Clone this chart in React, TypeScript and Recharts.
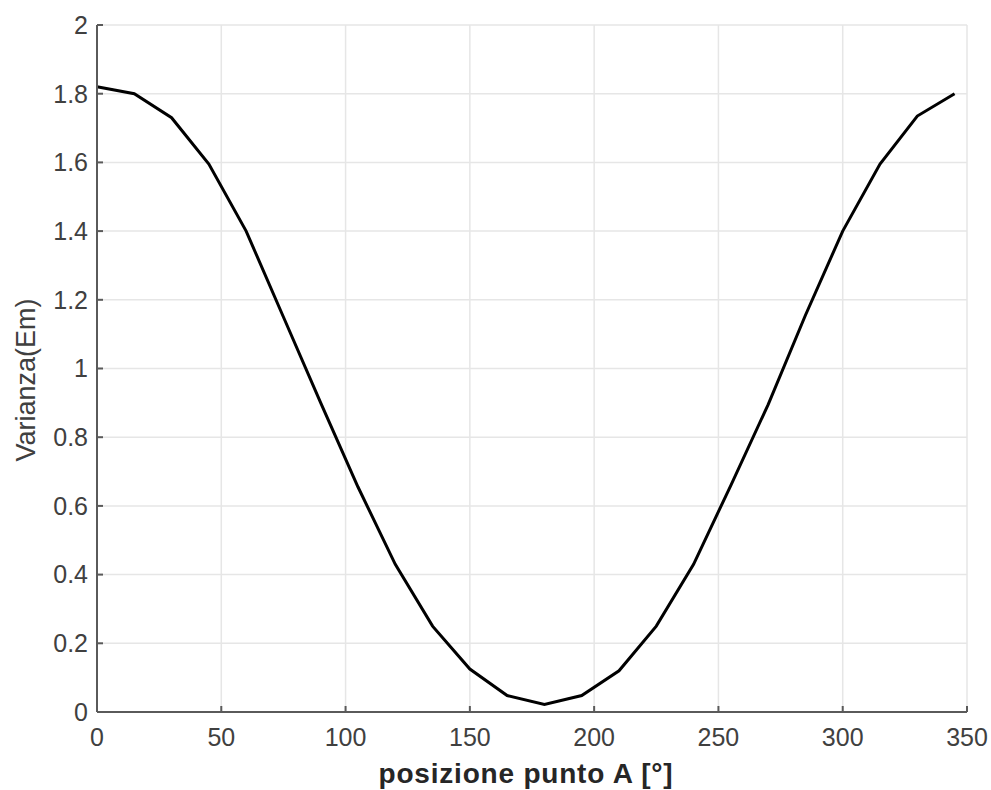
import React from "react";
import { LineChart, Line, XAxis, YAxis, CartesianGrid, Label } from "recharts";

// Angular position of point A, in degrees
const positions = [0, 15, 30, 45, 60, 75, 90, 105, 120, 135, 150, 165, 180, 195, 210, 225, 240, 255, 270, 285, 300, 315, 330, 345];
// Variance of Em at each position
const variance = [1.82, 1.80, 1.73, 1.595, 1.40, 1.15, 0.90, 0.655, 0.43, 0.25, 0.125, 0.048, 0.022, 0.048, 0.12, 0.25, 0.43, 0.66, 0.895, 1.155, 1.40, 1.595, 1.735, 1.80];

const xTicks = [0, 50, 100, 150, 200, 250, 300, 350];
const yTicks = [0, 0.2, 0.4, 0.6, 0.8, 1, 1.2, 1.4, 1.6, 1.8, 2];

const data = positions.map((p, i) => ({ pos: p, v: variance[i] }));

const FONT = "'Liberation Sans', Arial, Helvetica, sans-serif";
const AXIS = "#5a5a5a";
const TEXT = "#404040";

const tickStyle = { fill: TEXT, fontSize: 25, fontFamily: FONT };

export default function App() {
  return (
    <div style={{ position: "absolute", left: 0, top: 0, width: 991, height: 790, background: "#fff" }}>
      <LineChart width={991} height={790} data={data} margin={{ top: 25, right: 24, bottom: 0, left: 0 }}>
        <CartesianGrid stroke="#e6e6e6" strokeWidth={1.5} />
        <XAxis
          dataKey="pos"
          type="number"
          domain={[0, 350]}
          ticks={xTicks}
          interval={0}
          height={78}
          axisLine={{ stroke: AXIS, strokeWidth: 2 }}
          tickLine={{ stroke: AXIS, strokeWidth: 2 }}
          tickSize={-6}
          tickMargin={22}
          tick={tickStyle}
        >
          <Label
            content={(props: any) => {
              const vb = props.viewBox;
              return (
                <text
                  x={vb.x + vb.width / 2 - 6}
                  y={783}
                  textAnchor="middle"
                  fontFamily={FONT}
                  fontSize={28}
                  letterSpacing={0.8}
                  fontWeight="bold"
                  fill="#262626"
                >
                  posizione punto A [°]
                </text>
              );
            }}
          />
        </XAxis>
        <YAxis
          type="number"
          domain={[0, 2]}
          ticks={yTicks}
          interval={0}
          width={97}
          axisLine={{ stroke: AXIS, strokeWidth: 2 }}
          tickLine={{ stroke: AXIS, strokeWidth: 2 }}
          tickSize={-6}
          tickMargin={15}
          tick={tickStyle}
        >
          <Label
            content={() => (
              <text
                x={35}
                y={380}
                transform="rotate(-90 35 380)"
                textAnchor="middle"
                fontFamily={FONT}
                fontSize={27}
                fill={TEXT}
              >
                Varianza(Em)
              </text>
            )}
          />
        </YAxis>
        <Line
          type="linear"
          dataKey="v"
          stroke="#000"
          strokeWidth={3}
          dot={false}
          isAnimationActive={false}
        />
      </LineChart>
    </div>
  );
}
